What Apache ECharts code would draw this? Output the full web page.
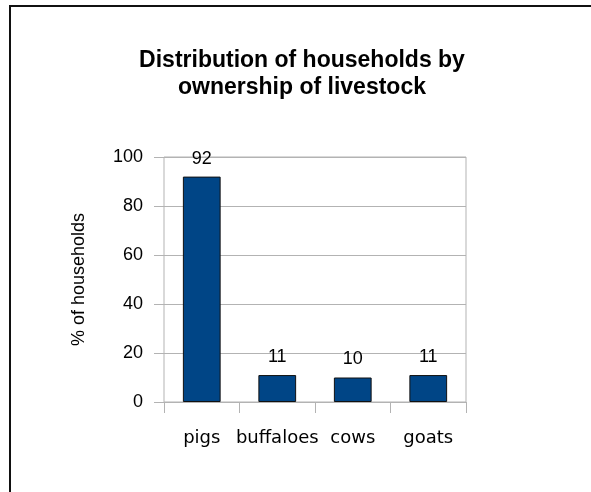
<!DOCTYPE html>
<html>
<head>
<meta charset="utf-8">
<script src="https://cdn.jsdelivr.net/npm/echarts@6/dist/echarts.min.js"></script>
<style>
  html, body { margin: 0; padding: 0; background: #fff; }
  #chart { width: 591px; height: 492px; }
</style>
</head>
<body>
<div id="chart"></div>
<script>
// livestock ownership chart

const categories = ['pigs', 'buffaloes', 'cows', 'goats'];
const percentHouseholds = [92, 11, 10, 11];
const yTicks = [0, 20, 40, 60, 80, 100];

const chart = echarts.init(document.getElementById('chart'));

chart.setOption({
  animation: false,
  backgroundColor: '#fff',
  title: {
    text: 'Distribution of households by\nownership of livestock',
    left: 297,
    textAlign: 'center',
    top: 42,
    textStyle: {
      fontFamily: 'Liberation Sans',
      fontSize: 23,
      fontWeight: 'bold',
      color: '#000',
      lineHeight: 27
    }
  },
  grid: {
    left: 164, right: 125, top: 157, bottom: 90,
    show: true, borderColor: '#b3b3b3', borderWidth: 1
  },
  xAxis: {
    type: 'category',
    data: categories,
    axisLine: { show: false },
    axisTick: { show: true, interval: 0, length: 11, lineStyle: { color: '#b3b3b3' } },
    axisLabel: {
      interval: 0,
      margin: 27,
      fontFamily: 'DejaVu Sans',
      fontSize: 18,
      color: '#000'
    }
  },
  yAxis: {
    type: 'value',
    min: yTicks[0],
    max: yTicks[yTicks.length - 1],
    interval: 20,
    name: '% of households',
    nameLocation: 'middle',
    nameGap: 76,
    nameTextStyle: { fontFamily: 'Liberation Sans', fontSize: 18, color: '#000' },
    axisLine: { show: false },
    axisTick: { show: true, length: 10, lineStyle: { color: '#b3b3b3' } },
    axisLabel: {
      margin: 21,
      fontFamily: 'Liberation Sans',
      fontSize: 18,
      color: '#000'
    },
    splitLine: { lineStyle: { color: '#b3b3b3' } }
  },
  series: [{
    type: 'bar',
    data: percentHouseholds,
    barWidth: '50%',
    itemStyle: { color: '#004586', borderColor: '#111', borderWidth: 1 },
    label: {
      show: true,
      position: 'top',
      distance: 9,
      fontFamily: 'Liberation Sans',
      fontSize: 18,
      color: '#000'
    }
  }],
  graphic: [
    { type: 'line', shape: { x1: 9, y1: 6, x2: 591, y2: 6 }, style: { stroke: '#111', lineWidth: 2 } },
    { type: 'line', shape: { x1: 10, y1: 5, x2: 10, y2: 492 }, style: { stroke: '#111', lineWidth: 2 } }
  ]
});
</script>
</body>
</html>
